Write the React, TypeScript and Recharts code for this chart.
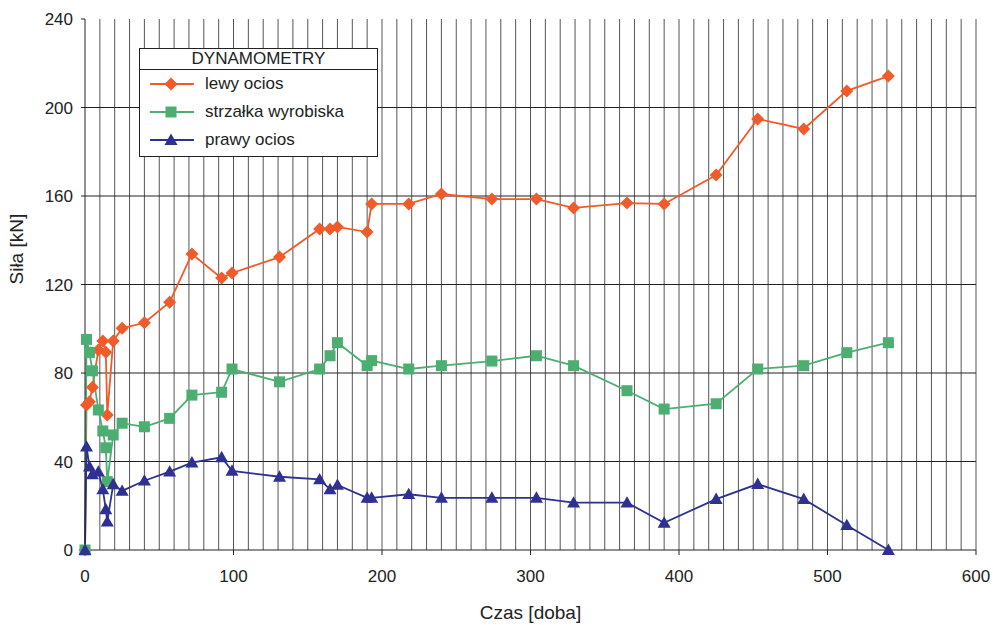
import { LineChart, Line, XAxis, YAxis, ReferenceLine } from 'recharts';

const days = [0, 1, 3, 5, 9, 12, 14, 15, 19, 25, 40, 57, 72, 92, 99, 131, 158, 165, 170, 190, 193, 218, 240, 274, 304, 329, 365, 390, 425, 453, 484, 513, 541];
const lewyOcios = [0, 65.5, 67, 73.6, 90.4, 94.5, 89.4, 61, 94.5, 100.2, 102.7, 112, 133.8, 122.9, 125.2, 132.4, 145.1, 145.1, 146, 143.7, 156.4, 156.4, 160.9, 158.6, 158.6, 154.6, 156.8, 156.4, 169.5, 194.8, 190.3, 207.5, 214.2];
const strzalka = [0, 95.2, 89.3, 81, 63.3, 53.8, 46.2, 30.9, 52, 57.3, 55.7, 59.5, 70, 71.3, 81.8, 76, 81.8, 87.8, 93.7, 83.3, 85.6, 81.8, 83.3, 85.4, 87.8, 83.3, 72, 63.7, 66.1, 81.8, 83.3, 89.2, 93.7];
const prawyOcios = [0, 46.7, 37.7, 34.2, 35.4, 27.4, 18.4, 12.8, 29.7, 26.7, 31.3, 35.4, 39.5, 41.9, 35.8, 33.1, 31.9, 27.4, 29.4, 23.6, 23.6, 25.2, 23.6, 23.6, 23.6, 21.4, 21.4, 12.3, 23, 29.8, 23, 11.2, 0];

const xTicks = [0, 100, 200, 300, 400, 500, 600];
const yTicks = [0, 40, 80, 120, 160, 200, 240];
const gridDays = Array.from({ length: 60 }, (_, i) => (i + 1) * 10);
const gridForces = [40, 80, 120, 160, 200];

const ORANGE = '#F15A29';
const GREEN = '#4DAE72';
const BLUE = '#2E3192';
const FONT = '"Liberation Sans", Arial, sans-serif';

const data = days.map((d, i) => ({
  day: d,
  lewy: lewyOcios[i],
  strzalka: strzalka[i],
  prawy: prawyOcios[i],
}));

function Diamond({ cx, cy, r = 6.5, color }: { cx: number; cy: number; r?: number; color: string }) {
  return <path d={`M${cx},${cy - r} L${cx + r},${cy} L${cx},${cy + r} L${cx - r},${cy} Z`} fill={color} />;
}

function Square({ cx, cy, r = 5.5, color }: { cx: number; cy: number; r?: number; color: string }) {
  return <rect x={cx - r} y={cy - r} width={r * 2} height={r * 2} fill={color} />;
}

function Triangle({ cx, cy, r = 6.5, color }: { cx: number; cy: number; r?: number; color: string }) {
  return (
    <path
      d={`M${cx},${cy - r} L${cx + r},${cy + r * 0.75} L${cx - r},${cy + r * 0.75} Z`}
      fill={color}
    />
  );
}

const legendItems = [
  { label: 'lewy ocios', color: ORANGE, Marker: Diamond },
  { label: 'strzałka wyrobiska', color: GREEN, Marker: Square },
  { label: 'prawy ocios', color: BLUE, Marker: Triangle },
];

function ChartLegend() {
  return (
    <div
      style={{
        position: 'absolute',
        left: 139,
        top: 48,
        width: 239,
        height: 109,
        border: '1.5px solid #222',
        background: '#fff',
        boxSizing: 'border-box',
        fontFamily: FONT,
        fontSize: 17,
        color: '#222',
      }}
    >
      <div
        style={{
          height: 20,
          borderBottom: '1.5px solid #222',
          textAlign: 'center',
          lineHeight: '20px',
        }}
      >
        DYNAMOMETRY
      </div>
      {legendItems.map(({ label, color, Marker }, i) => (
        <div
          key={label}
          style={{ position: 'absolute', left: 0, top: 25 + i * 28, height: 20, display: 'flex', alignItems: 'center' }}
        >
          <svg width={57} height={20} style={{ marginLeft: 8 }}>
            <line x1={2} y1={10} x2={46} y2={10} stroke={color} strokeWidth={2} />
            <Marker cx={23} cy={10} color={color} />
          </svg>
          <span>{label}</span>
        </div>
      ))}
    </div>
  );
}

export default function App() {
  return (
    <div style={{ position: 'absolute', left: 0, top: 0, width: 993, height: 625, background: '#fff' }}>
      <LineChart
        width={993}
        height={625}
        data={data}
        margin={{ top: 19, right: 17, bottom: 0, left: 0 }}
      >
        {gridDays.map((d) => (
          <ReferenceLine key={`v${d}`} x={d} stroke="#555" strokeWidth={1} />
        ))}
        {gridForces.map((f) => (
          <ReferenceLine key={`h${f}`} y={f} stroke="#222" strokeWidth={1} />
        ))}
        <XAxis
          dataKey="day"
          type="number"
          domain={[0, 600]}
          ticks={xTicks}
          height={75}
          tickSize={5}
          tickMargin={15}
          stroke="#222"
          tick={{ fontSize: 17, fill: '#222', fontFamily: FONT }}
          label={{ value: 'Czas [doba]', position: 'insideBottom', offset: 6, fontSize: 19, fill: '#222', fontFamily: FONT }}
        />
        <YAxis
          type="number"
          domain={[0, 240]}
          ticks={yTicks}
          width={85}
          tickSize={4}
          tickMargin={8}
          stroke="#222"
          tick={{ fontSize: 17, fill: '#222', fontFamily: FONT }}
          label={{ value: 'Siła [kN]', angle: -90, position: 'insideLeft', offset: 16, fontSize: 19, fill: '#222', fontFamily: FONT }}
        />
        <Line
          dataKey="lewy"
          stroke={ORANGE}
          strokeWidth={1.8}
          isAnimationActive={false}
          dot={(p: any) => <Diamond key={`d${p.index}`} cx={p.cx} cy={p.cy} color={ORANGE} />}
        />
        <Line
          dataKey="strzalka"
          stroke={GREEN}
          strokeWidth={1.8}
          isAnimationActive={false}
          dot={(p: any) => <Square key={`s${p.index}`} cx={p.cx} cy={p.cy} color={GREEN} />}
        />
        <Line
          dataKey="prawy"
          stroke={BLUE}
          strokeWidth={1.8}
          isAnimationActive={false}
          dot={(p: any) => <Triangle key={`t${p.index}`} cx={p.cx} cy={p.cy} color={BLUE} />}
        />
      </LineChart>
      <ChartLegend />
    </div>
  );
}
